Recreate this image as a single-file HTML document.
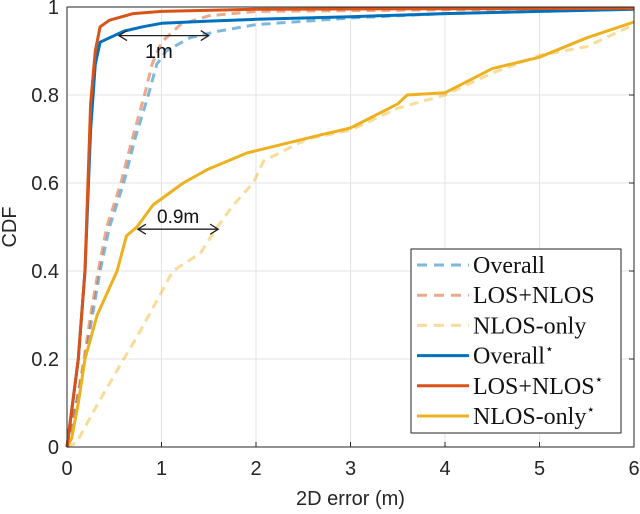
<!DOCTYPE html>
<html><head><meta charset="utf-8"><style>
body{margin:0;background:#fff}
svg{display:block;font-family:"Liberation Sans",sans-serif}
</style></head><body>
<svg id="chart" width="640" height="514" viewBox="0 0 640 514">
<g id="grid"></g>
<g id="series"></g>
<g id="axes"></g>
<g id="annot"></g>
<g id="legend"></g>
</svg>
<script>
const xTicks=[0,1,2,3,4,5,6];
const yTicks=[0,0.2,0.4,0.6,0.8,1];
const yTickLabels=["0","0.2","0.4","0.6","0.8","1"];
const seriesNames=["Overall","LOS+NLOS","NLOS-only","Overall","LOS+NLOS","NLOS-only"];
const overallX=[0,0.1,0.19,0.27,0.35,0.45,0.6,0.72,0.86,0.95,1.05,1.3,1.6,2,3,4,6];
const overallY=[0,0.1,0.2,0.3,0.4,0.5,0.6,0.7,0.8,0.87,0.9,0.93,0.945,0.96,0.975,0.985,0.995];
const losNlosX=[0,0.1,0.18,0.25,0.33,0.42,0.57,0.69,0.82,0.9,1.0,1.2,1.5,2,6];
const losNlosY=[0,0.1,0.2,0.3,0.4,0.5,0.6,0.7,0.8,0.87,0.92,0.96,0.98,0.99,0.997];
const nlosX=[0,0.1,0.33,0.6,0.74,0.97,1.12,1.41,1.59,1.76,1.97,2.08,2.54,3,3.5,4,4.5,5,5.5,6];
const nlosY=[0,0.01,0.1,0.2,0.25,0.34,0.4,0.44,0.5,0.55,0.6,0.65,0.7,0.72,0.77,0.8,0.85,0.89,0.91,0.96];
const overallStarX=[0,0.12,0.19,0.25,0.3,0.35,0.45,0.6,0.8,1,1.5,2,3,4,5,6];
const overallStarY=[0,0.2,0.4,0.72,0.87,0.92,0.93,0.945,0.955,0.963,0.968,0.972,0.978,0.985,0.99,0.995];
const losNlosStarX=[0,0.12,0.19,0.25,0.3,0.35,0.45,0.7,1,2,6];
const losNlosStarY=[0,0.2,0.4,0.78,0.9,0.955,0.97,0.985,0.99,0.995,0.997];
const nlosStarX=[0,0.05,0.12,0.19,0.32,0.53,0.63,0.74,0.91,1.23,1.48,1.9,2.7,3,3.5,3.6,4,4.5,5,5.5,6];
const nlosStarY=[0,0.02,0.1,0.2,0.3,0.4,0.48,0.5,0.55,0.6,0.63,0.668,0.71,0.725,0.78,0.8,0.805,0.86,0.886,0.93,0.966];

const NS="http://www.w3.org/2000/svg";
const X0=67,X1=634,Y0=447,Y1=7;
const sx=v=>X0+(v-0)/(6-0)*(X1-X0);
const sy=v=>Y0-(v-0)/(1-0)*(Y0-Y1);
function mk(tag,attrs,parent){const e=document.createElementNS(NS,tag);for(const k in attrs)e.setAttribute(k,attrs[k]);parent.appendChild(e);return e;}
const grid=document.getElementById('grid'),axes=document.getElementById('axes'),ser=document.getElementById('series'),ann=document.getElementById('annot'),leg=document.getElementById('legend');
xTicks.forEach((t,i)=>{
  const g=mk('line',{x1:sx(t),x2:sx(t),y1:Y1,y2:Y0,stroke:'#e3e3e3','stroke-width':1},grid);
  
  
  const tk=mk('line',{x1:sx(t),x2:sx(t),y1:Y0,y2:Y0-5,stroke:'#262626'},axes);
  
  
  const tx=mk('text',{x:sx(t),y:Y0+28,'text-anchor':'middle','font-size':20,fill:'#262626'},axes);
  tx.textContent=String(t);
  
  
});
yTicks.forEach((t,i)=>{
  const g=mk('line',{x1:X0,x2:X1,y1:sy(t),y2:sy(t),stroke:'#e3e3e3','stroke-width':1},grid);
  
  
  const tk=mk('line',{x1:X1,x2:X1-5,y1:sy(t),y2:sy(t),stroke:'#262626'},axes);
  
  
  const tx=mk('text',{x:X0-8,y:sy(t)+7,'text-anchor':'end','font-size':20,fill:'#262626'},axes);
  tx.textContent=yTickLabels[i];
  
  
});
const box=mk('rect',{x:X0,y:Y1,width:X1-X0,height:Y0-Y1,fill:'none',stroke:'#262626','stroke-width':1},axes);


const xl=mk('text',{x:(X0+X1)/2,y:505,'text-anchor':'middle','font-size':20,fill:'#262626'},axes);
xl.textContent='2D error (m)';


const yl=mk('text',{x:0,y:0,'text-anchor':'middle','font-size':20,fill:'#262626',transform:`translate(16,${(Y0+Y1)/2}) rotate(-90)`},axes);
yl.textContent='CDF';



const specs=[
 [overallX,overallY,'#0072BD',0.5,'9 6','overall-dashed'],
 [losNlosX,losNlosY,'#D95319',0.5,'9 6','los-nlos-dashed'],
 [nlosX,nlosY,'#EDB120',0.45,'9 6','nlos-only-dashed'],
 [nlosStarX,nlosStarY,'#EDB120',1,'','nlos-only-star'],
 [overallStarX,overallStarY,'#0072BD',1,'','overall-star'],
 [losNlosStarX,losNlosStarY,'#D95319',1,'','los-nlos-star']];
specs.forEach(s=>{
  const pts=s[0].map((x,i)=>sx(x).toFixed(1)+','+sy(s[1][i]).toFixed(1)).join(' ');
  const p=mk('polyline',{points:pts,fill:'none',stroke:s[2],'stroke-opacity':s[3],'stroke-width':3,'stroke-dasharray':s[4],'stroke-linejoin':'round'},ser);
  
  
});

function arrow(xa,xb,y,name){
  const g=mk('g',{},ann);
  
  
  mk('line',{x1:xa,x2:xb,y1:y,y2:y,stroke:'#222','stroke-width':1.3},g);
  mk('path',{d:`M${xa+8},${y-5} L${xa},${y} L${xa+8},${y+5}`,fill:'none',stroke:'#222','stroke-width':1.3},g);
  mk('path',{d:`M${xb-8},${y-5} L${xb},${y} L${xb-8},${y+5}`,fill:'none',stroke:'#222','stroke-width':1.3},g);
}
arrow(sx(0.55),sx(1.5),sy(0.935),'arrow-1m');
arrow(sx(0.75),sx(1.6),sy(0.495),'arrow-0.9m');
const t1=mk('text',{x:145,y:58,'font-size':20,fill:'#111'},ann);t1.textContent='1m';


const t2=mk('text',{x:157,y:223,'font-size':19,fill:'#111'},ann);t2.textContent='0.9m';



const lb=mk('rect',{x:411,y:249,width:210,height:184,fill:'#fff',stroke:'#262626','stroke-width':1},leg);


const lc=['#0072BD','#D95319','#EDB120','#0072BD','#D95319','#EDB120'];
seriesNames.forEach((n,i)=>{
  const y=265+i*30.2;
  const g=mk('g',{},leg);
  
  
  mk('line',{x1:417,x2:469,y1:y,y2:y,stroke:lc[i],'stroke-opacity':i<3?(i==2?0.45:0.5):1,'stroke-width':3,'stroke-dasharray':i<3?'10 7':''},g);
  const t=mk('text',{x:473,y:y+8,'font-size':24,fill:'#111','font-family':'"Liberation Serif",serif'},g);
  t.textContent=n;
  if(i>=3){const s=mk('tspan',{'font-size':14,dy:-10},t);s.textContent='\u22c6';}
});
</script>
</body></html>
